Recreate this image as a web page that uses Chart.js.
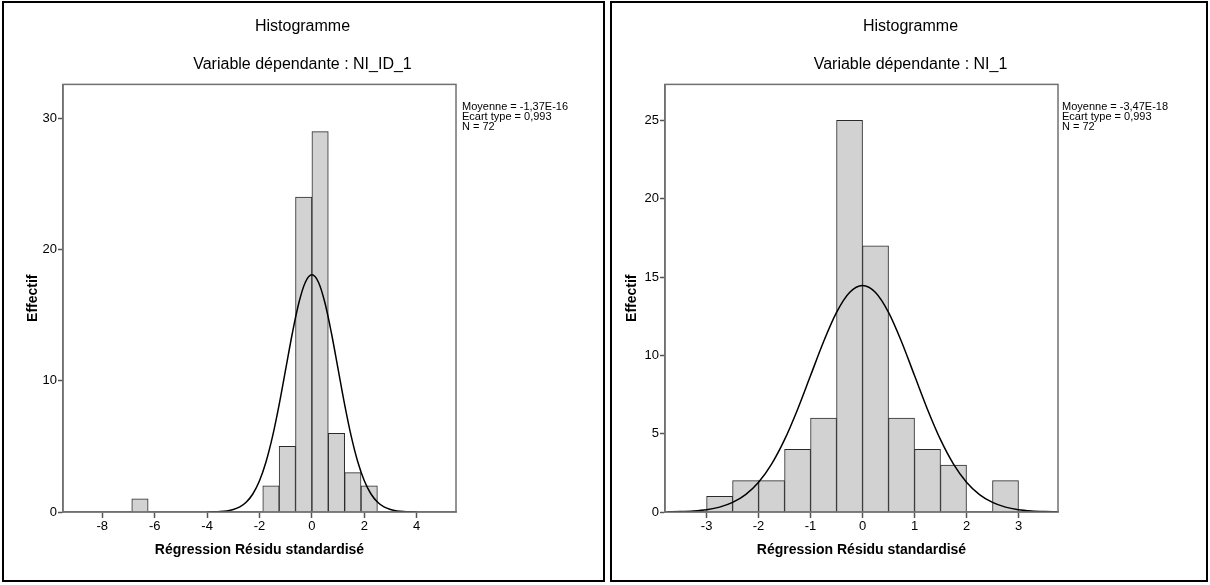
<!DOCTYPE html>
<html>
<head>
<meta charset="utf-8">
<script src="https://cdn.jsdelivr.net/npm/chart.js@4.4.0/dist/chart.umd.min.js"></script>
<style>
  body { margin: 0; background: #fff; width: 1210px; height: 585px; position: relative; overflow: hidden; }
  .frame { position: absolute; top: 1px; height: 581px; border: 2px solid #000; box-sizing: border-box; }
  canvas { position: absolute; top: 0; }
  .stats { position: absolute; top: 101px; font: 11px/10px "Liberation Sans Narrow", "Liberation Sans", Arial, sans-serif; color: #000; white-space: nowrap; }
</style>
</head>
<body>
<div class="frame" style="left:2px;width:603px"></div>
<div class="frame" style="left:610px;width:598px"></div>
<canvas id="left" width="605" height="585" style="left:0"></canvas>
<canvas id="right" width="599" height="585" style="left:611px"></canvas>
<div class="stats" style="left:462px">Moyenne = -1,37E-16<br>Ecart type = 0,993<br>N = 72</div>
<div class="stats" style="left:1062px">Moyenne = -3,47E-18<br>Ecart type = 0,993<br>N = 72</div>
<script>
// left histogram: NI_ID_1
const leftBinStart = [-6.875, -1.875, -1.25, -0.625, 0, 0.625, 1.25, 1.875];
const leftCounts = [1, 2, 5, 24, 29, 6, 3, 2];
const leftBinWidth = 0.625;
const leftXTicks = [-8, -6, -4, -2, 0, 2, 4];
const leftYTicks = [0, 10, 20, 30];
const leftCurveX = [-4, -3.75, -3.5, -3.25, -3, -2.75, -2.5, -2.25, -2, -1.75, -1.5, -1.25, -1, -0.75, -0.5, -0.25, 0,
  0.25, 0.5, 0.75, 1, 1.25, 1.5, 1.75, 2, 2.25, 2.5, 2.75, 3, 3.25, 3.5, 3.75, 4];
const leftCurveY = [0.005, 0.015, 0.036, 0.085, 0.19, 0.39, 0.76, 1.39, 2.38, 3.83, 5.78, 8.19, 10.89, 13.59, 15.93, 17.52, 18.08,
  17.52, 15.93, 13.59, 10.89, 8.19, 5.78, 3.83, 2.38, 1.39, 0.76, 0.39, 0.19, 0.085, 0.036, 0.015, 0.005];

// right histogram: NI_1
const rightBinStart = [-3, -2.5, -2, -1.5, -1, -0.5, 0, 0.5, 1, 1.5, 2, 2.5];
const rightCounts = [1, 2, 2, 4, 6, 25, 17, 6, 4, 3, 0, 2];
const rightBinWidth = 0.5;
const rightXTicks = [-3, -2, -1, 0, 1, 2, 3];
const rightYTicks = [0, 5, 10, 15, 20, 25];
const rightCurveX = [-3.75, -3.5, -3.25, -3, -2.75, -2.5, -2.25, -2, -1.75, -1.5, -1.25, -1, -0.75, -0.5, -0.25, 0,
  0.25, 0.5, 0.75, 1, 1.25, 1.5, 1.75, 2, 2.25, 2.5, 2.75, 3, 3.25, 3.5, 3.75];
const rightCurveY = [0.01, 0.03, 0.07, 0.15, 0.31, 0.61, 1.11, 1.9, 3.06, 4.62, 6.55, 8.71, 10.87, 12.74, 14.01, 14.46,
  14.01, 12.74, 10.87, 8.71, 6.55, 4.62, 3.06, 1.9, 1.11, 0.61, 0.31, 0.15, 0.07, 0.03, 0.01];

const narrow = "'Liberation Sans Narrow', 'Liberation Sans', Arial, sans-serif";
const sans = "'Liberation Sans', Arial, sans-serif";

// grey frame round the plot area
const plotBox = {
  id: "plotBox",
  afterDatasetsDraw(chart) {
    const a = chart.chartArea;
    const ctx = chart.ctx;
    ctx.save();
    ctx.strokeStyle = "#707070";
    ctx.lineWidth = 1.5;
    ctx.strokeRect(a.left, a.top, a.right - a.left, a.bottom - a.top);
    ctx.restore();
  },
};

function histogram(id, cfg) {
  const bars = cfg.counts.map((c, i) => ({ x: cfg.binStart[i] + cfg.binWidth / 2, y: c }));
  const curve = cfg.curveX.map((x, i) => ({ x: x, y: cfg.curveY[i] }));
  return new Chart(document.getElementById(id), {
    type: "bar",
    data: {
      datasets: [
        {
          type: "line",
          data: curve,
          borderColor: "#000",
          borderWidth: 1.5,
          pointRadius: 0,
          cubicInterpolationMode: "monotone",
          order: 0,
        },
        {
          data: bars,
          backgroundColor: "#d2d2d2",
          borderColor: "#2a2a2a",
          borderWidth: 1,
          barPercentage: 1,
          categoryPercentage: 1,
          order: 1,
        },
      ],
    },
    options: {
      responsive: false,
      animation: false,
      events: [],
      plugins: {
        legend: { display: false },
        tooltip: { enabled: false },
        title: {
          display: true,
          text: "Histogramme",
          color: "#000",
          font: { family: sans, size: 16, weight: "normal" },
          padding: { top: 17, bottom: 19 },
        },
        subtitle: {
          display: true,
          text: cfg.subtitle,
          color: "#000",
          font: { family: sans, size: 16, weight: "normal" },
          padding: { top: 0, bottom: 10 },
        },
      },
      scales: {
        x: {
          type: "linear",
          min: cfg.xMin,
          max: cfg.xMax,
          offset: false,
          afterBuildTicks: (s) => { s.ticks = cfg.xTicks.map((v) => ({ value: v })); },
          afterFit: (s) => { s.height = 73; },
          grid: { drawOnChartArea: false, offset: false, tickLength: 6, tickColor: "#555", tickWidth: 1.5 },
          border: { color: "#707070", width: 1.5 },
          ticks: { color: "#000", font: { family: narrow, size: 13 }, padding: 1, maxRotation: 0 },
          title: {
            display: true,
            text: "Régression Résidu standardisé",
            color: "#000",
            font: { family: sans, size: 14, weight: "bold" },
            padding: { top: 26, bottom: 26 },
          },
        },
        y: {
          min: 0,
          max: cfg.yMax,
          afterBuildTicks: (s) => { s.ticks = cfg.yTicks.map((v) => ({ value: v })); },
          afterFit: (s) => { s.width = cfg.yWidth; },
          grid: { drawOnChartArea: false, tickLength: 5, tickColor: "#555", tickWidth: 1.5 },
          border: { color: "#707070", width: 1.5 },
          ticks: { color: "#000", font: { family: narrow, size: 13 }, padding: 1 },
          title: {
            display: true,
            text: "Effectif",
            color: "#000",
            font: { family: sans, size: 14, weight: "bold" },
            padding: { top: cfg.yTitlePad, bottom: cfg.yTitlePad },
          },
        },
        // empty right-hand axis: reserves the space where the stats text sits
        side: {
          position: "right",
          min: 0,
          max: 1,
          afterFit: (s) => { s.width = cfg.padRight; },
          grid: { display: false },
          border: { display: false },
          ticks: { display: false },
        },
      },
    },
    plugins: [plotBox],
  });
}

histogram("left", {
  binStart: leftBinStart, counts: leftCounts, binWidth: leftBinWidth,
  curveX: leftCurveX, curveY: leftCurveY,
  xTicks: leftXTicks, yTicks: leftYTicks,
  xMin: -9.5, xMax: 5.5, yMax: 32.6,
  subtitle: "Variable dépendante : NI_ID_1",
  padRight: 149, yWidth: 63, yTitlePad: 25,
});

histogram("right", {
  binStart: rightBinStart, counts: rightCounts, binWidth: rightBinWidth,
  curveX: rightCurveX, curveY: rightCurveY,
  xTicks: rightXTicks, yTicks: rightYTicks,
  xMin: -3.8, xMax: 3.76, yMax: 27.3,
  subtitle: "Variable dépendante : NI_1",
  padRight: 152, yWidth: 54, yTitlePad: 13,
});
</script>
</body>
</html>
